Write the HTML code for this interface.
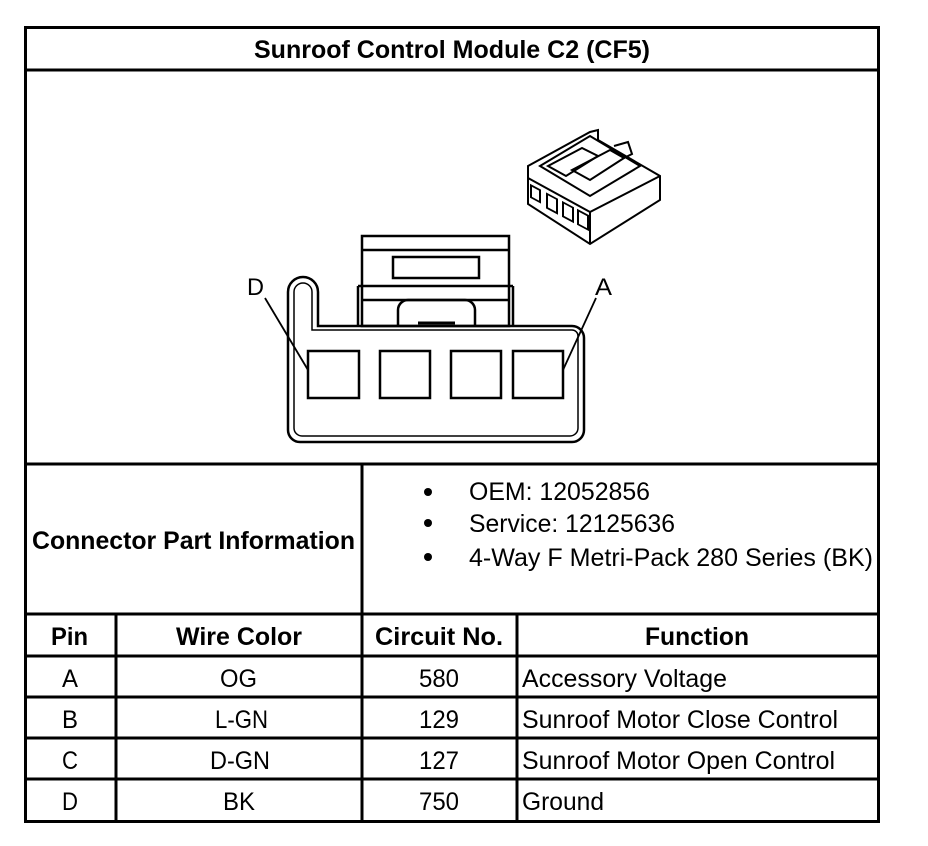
<!DOCTYPE html>
<html><head><style>
body{margin:0;background:#fff;width:928px;height:846px;overflow:hidden}
svg{position:absolute;left:0;top:0}
text{font-family:"Liberation Sans",Arial,sans-serif;fill:#000}
</style></head><body>
<svg width="928" height="846" viewBox="0 0 928 846">
<g fill="none" stroke="#000" stroke-width="3">
<rect x="25.5" y="27.5" width="853" height="794"/>
<line x1="24" y1="70" x2="880" y2="70"/>
<line x1="24" y1="464" x2="880" y2="464"/>
<line x1="24" y1="614" x2="880" y2="614"/>
<line x1="24" y1="656" x2="880" y2="656"/>
<line x1="24" y1="697" x2="880" y2="697"/>
<line x1="24" y1="738" x2="880" y2="738"/>
<line x1="24" y1="779" x2="880" y2="779"/>
<line x1="362" y1="464" x2="362" y2="822"/>
<line x1="116" y1="614" x2="116" y2="822"/>
<line x1="517" y1="614" x2="517" y2="822"/>
</g>
<g>
<text x="254" y="58" font-size="25" font-weight="bold" textLength="396" lengthAdjust="spacingAndGlyphs">Sunroof Control Module C2 (CF5)</text>
<text x="32" y="549" font-size="25" font-weight="bold" textLength="323" lengthAdjust="spacingAndGlyphs">Connector Part Information</text>
<circle cx="428" cy="492" r="4"/><circle cx="428" cy="523" r="4"/><circle cx="428" cy="557" r="4"/>
<text x="469" y="500" font-size="25" textLength="181" lengthAdjust="spacingAndGlyphs">OEM: 12052856</text>
<text x="469" y="532" font-size="25" textLength="206" lengthAdjust="spacingAndGlyphs">Service: 12125636</text>
<text x="469" y="566" font-size="25" textLength="404" lengthAdjust="spacingAndGlyphs">4-Way F Metri-Pack 280 Series (BK)</text>
<g font-size="25" font-weight="bold">
<text x="51" y="645" textLength="37" lengthAdjust="spacingAndGlyphs">Pin</text>
<text x="176" y="645" textLength="126" lengthAdjust="spacingAndGlyphs">Wire Color</text>
<text x="375" y="645" textLength="128" lengthAdjust="spacingAndGlyphs">Circuit No.</text>
<text x="645" y="645" textLength="104" lengthAdjust="spacingAndGlyphs">Function</text>
</g>
<g font-size="25">
<text x="62" y="687" textLength="16" lengthAdjust="spacingAndGlyphs">A</text>
<text x="220" y="687" textLength="37" lengthAdjust="spacingAndGlyphs">OG</text>
<text x="419" y="687" textLength="40" lengthAdjust="spacingAndGlyphs">580</text>
<text x="522" y="687" textLength="205" lengthAdjust="spacingAndGlyphs">Accessory Voltage</text>
<text x="62" y="728" textLength="16" lengthAdjust="spacingAndGlyphs">B</text>
<text x="215" y="728" textLength="53" lengthAdjust="spacingAndGlyphs">L-GN</text>
<text x="419" y="728" textLength="40" lengthAdjust="spacingAndGlyphs">129</text>
<text x="522" y="728" textLength="316" lengthAdjust="spacingAndGlyphs">Sunroof Motor Close Control</text>
<text x="62" y="769" textLength="16" lengthAdjust="spacingAndGlyphs">C</text>
<text x="210" y="769" textLength="60" lengthAdjust="spacingAndGlyphs">D-GN</text>
<text x="419" y="769" textLength="40" lengthAdjust="spacingAndGlyphs">127</text>
<text x="522" y="769" textLength="313" lengthAdjust="spacingAndGlyphs">Sunroof Motor Open Control</text>
<text x="62" y="810" textLength="16" lengthAdjust="spacingAndGlyphs">D</text>
<text x="223" y="810" textLength="32" lengthAdjust="spacingAndGlyphs">BK</text>
<text x="419" y="810" textLength="40" lengthAdjust="spacingAndGlyphs">750</text>
<text x="522" y="810" textLength="82" lengthAdjust="spacingAndGlyphs">Ground</text>
</g>
</g>
<g fill="none" stroke="#000" stroke-width="2.5">
<path d="M288 430 V292 a15 15 0 0 1 30 0 V326 H572 a12 12 0 0 1 12 12 V430 a12 12 0 0 1 -12 12 H300 a12 12 0 0 1 -12 -12 Z"/>
<path d="M294 428 V292 a9 9 0 0 1 18 0 V330 H572 a6 6 0 0 1 6 6 V428 a8 8 0 0 1 -8 8 H302 a8 8 0 0 1 -8 -8 Z" stroke-width="1.5"/>
<rect x="308" y="351" width="51" height="47"/>
<rect x="380" y="351" width="50" height="47"/>
<rect x="451" y="351" width="50" height="47"/>
<rect x="513" y="351" width="50" height="47"/>
<rect x="362" y="236" width="147" height="90"/>
<line x1="362" y1="250" x2="509" y2="250"/>
<rect x="393" y="257" width="86" height="21"/>
<line x1="358" y1="286" x2="513" y2="286"/>
<line x1="358" y1="286" x2="358" y2="326"/><line x1="513" y1="286" x2="513" y2="326"/>
<line x1="362" y1="300" x2="509" y2="300"/>
<path d="M398 326 V310 a10 10 0 0 1 10 -10 H465 a10 10 0 0 1 10 10 V326"/>
<line x1="418" y1="323" x2="455" y2="323" stroke-width="3"/>
<line x1="265" y1="298" x2="308" y2="370" stroke-width="1.8"/>
<line x1="596" y1="298" x2="563" y2="370" stroke-width="1.8"/>
</g>
<text x="247" y="295" font-size="24" textLength="17" lengthAdjust="spacingAndGlyphs">D</text>
<text x="595" y="295" font-size="24" textLength="17" lengthAdjust="spacingAndGlyphs">A</text>
<g fill="none" stroke="#000" stroke-width="2">
<path d="M528 166 L590 132 L598 130 L598 140 L660 176 L660 200 L590 244 L528 204 Z"/>
<path d="M528 178 L590 212 L660 176 M590 212 V244"/>
<path d="M540 166 L590 136 L640 166 L590 196 Z"/>
<path d="M548 166 L582 148 L598 156 L566 176 Z"/>
<path d="M572 170 L610 150 L624 158 L590 180 Z"/>
<path d="M614 146 L628 142 L632 154 L624 158"/>
<rect x="531" y="185" width="9" height="12" transform="skewY(28) translate(0,-282)"/>
<rect x="547" y="193" width="10" height="14" transform="skewY(28) translate(0,-290)"/>
<rect x="563" y="201" width="10" height="14" transform="skewY(28) translate(0,-298)"/>
<rect x="578" y="209" width="10" height="14" transform="skewY(28) translate(0,-306)"/>
</g>
</svg>
</body></html>
